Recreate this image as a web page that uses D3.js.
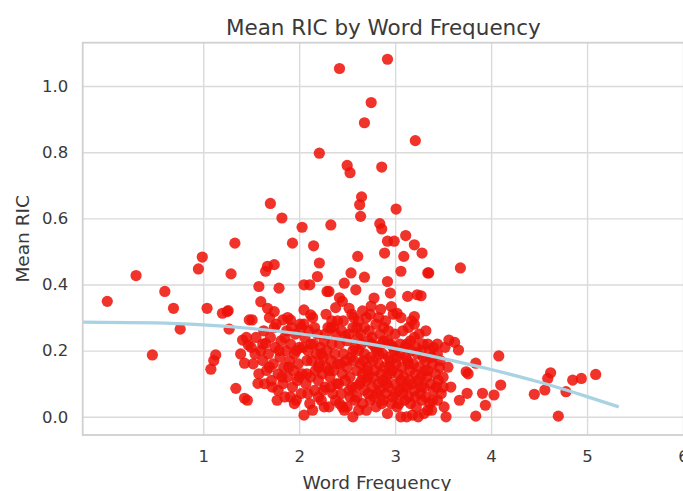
<!DOCTYPE html>
<html>
<head>
<meta charset="utf-8">
<script src="https://cdn.jsdelivr.net/npm/d3@7"></script>
<style>
  html, body { margin: 0; padding: 0; background: #ffffff; overflow: hidden; }
  svg { display: block; font-family: "DejaVu Sans", sans-serif; }
</style>
</head>
<body>
<svg id="chart" width="683" height="491"></svg>
<script>
// ---- Data ----
const title = "Mean RIC by Word Frequency";
const xLabel = "Word Frequency";
const yLabel = "Mean RIC";
const xTicks = [1, 2, 3, 4, 5, 6];
const yTicks = [0.0, 0.2, 0.4, 0.6, 0.8, 1.0];

const wordFrequency = [
  2.42,2.92,2.75,2.68,3.21,2.21,2.50,2.53,2.86,2.65,
  2.63,2.64,3.01,1.70,1.82,2.03,2.33,2.84,2.86,1.33,
  1.93,2.15,3.11,2.92,2.99,3.20,0.99,0.95,1.29,0.30,
  0.60,0.00,0.69,1.04,1.20,1.26,0.76,1.27,0.47,1.13,
  1.11,1.08,1.48,1.34,1.43,3.28,3.35,3.68,3.27,3.56,
  3.62,3.66,4.08,3.84,3.74,4.62,4.59,4.85,4.94,5.09,
  4.78,4.45,4.56,4.10,3.91,4.03,3.75,3.67,3.94,3.84,
  4.70,3.53,3.51,2.21,1.67,1.74,1.65,2.19,2.05,2.11,
  1.58,1.79,2.29,1.60,1.25,1.67,1.74,1.51,1.83,2.05,
  2.12,1.91,2.02,2.33,1.41,1.47,1.54,1.39,1.43,1.65,
  1.57,1.46,1.77,1.91,2.61,2.89,3.09,3.06,3.34,2.54,
  2.68,2.47,2.92,2.31,2.59,2.95,3.13,3.23,2.45,2.78,
  2.75,2.85,2.52,2.96,3.02,3.20,2.57,2.70,2.36,2.60,
  2.80,3.20,2.76,2.95,3.12,3.29,2.48,2.42,2.38,3.76,
  1.45,1.50,1.52,1.55,1.58,1.60,1.62,1.63,1.66,1.68,
  1.70,1.71,1.73,1.75,1.76,1.78,1.80,1.81,1.83,1.84,
  1.86,1.87,1.88,1.90,1.91,1.93,1.94,1.95,1.96,1.98,
  1.99,2.00,2.01,2.02,2.03,2.04,2.06,2.07,2.08,2.09,
  2.10,2.11,2.12,2.13,2.15,2.16,2.17,2.18,2.19,2.20,
  2.21,2.22,2.23,2.24,2.25,2.26,2.27,2.28,2.29,2.30,
  2.31,2.32,2.33,2.34,2.35,2.36,2.37,2.38,2.39,2.40,
  1.97,2.05,2.14,2.20,2.26,1.85,1.72,1.64,3.55,3.58,
  3.52,2.56,3.06,3.12,3.18,3.24,3.30,2.47,2.62,3.38,
  2.42,2.50,2.58,2.66,2.74,2.80,2.88,2.96,3.02,3.10,
  3.16,3.22,3.28,3.36,3.44,2.44,2.52,2.60,2.68,2.72,
  2.78,2.84,2.90,2.98,3.04,3.08,3.14,3.20,3.26,3.32,
  3.40,3.48,2.41,2.48,2.55,2.63,2.70,2.76,2.82,2.87,
  2.93,3.00,3.06,3.12,3.18,3.24,3.30,3.37,3.45,2.45,
  2.53,2.60,2.66,2.72,2.79,2.85,2.91,2.97,3.03,3.09,
  3.15,3.21,3.27,3.34,3.42,3.50,2.43,2.50,2.57,2.64,
  2.71,2.77,2.83,2.89,2.95,3.01,3.07,3.13,3.19,3.25,
  3.32,3.39,3.46,2.46,2.54,2.62,2.68,2.74,2.81,2.87,
  2.93,2.99,3.05,3.11,3.17,3.23,3.29,3.36,3.44,2.42,
  2.50,2.58,2.65,2.72,2.79,2.86,2.92,2.98,3.05,3.16,
  3.22,3.34,3.40,2.44,2.52,2.56,2.64,2.68,2.73,2.84,
  2.88,2.93,3.00,3.08,3.14,3.25,3.32,2.46,2.55,2.62,
  2.66,2.74,2.83,2.90,2.98,3.06,3.17,
  1.62,1.69,1.74,1.79,1.82,1.85,1.89,1.92,1.97,2.00,
  2.05,2.08,2.12,2.16,2.20,2.23,2.27,2.31,2.34,2.38,
  1.78,1.95,2.09,2.25,2.33,1.88,2.14,2.28,1.69,2.40,
  2.45,2.53,2.59,2.65,2.71,2.77,2.81,2.86,2.91,2.95,
  3.00,3.04,3.09,3.15,3.21,3.27,3.33,3.39,3.43,3.47,
  2.49,2.56,2.61,2.67,2.76,2.83,2.88,2.94,3.02,3.10,
  3.14,3.20,3.27,3.31,3.38,3.44,3.50,2.70,2.92,3.34
];

const meanRIC = [
  1.053,1.081,0.95,0.889,0.835,0.797,0.76,0.738,0.755,0.665,
  0.641,0.606,0.628,0.645,0.601,0.573,0.58,0.584,0.568,0.525,
  0.525,0.517,0.548,0.531,0.531,0.52,0.483,0.447,0.432,0.427,
  0.379,0.349,0.328,0.328,0.313,0.321,0.265,0.265,0.187,0.187,
  0.17,0.144,0.293,0.086,0.056,0.495,0.435,0.45,0.366,0.232,
  0.225,0.202,0.184,0.162,0.136,0.133,0.116,0.111,0.116,0.128,
  0.076,0.068,0.081,0.096,0.071,0.066,0.071,0.05,0.035,0.002,
  0.002,0.0,0.03,0.465,0.455,0.46,0.44,0.424,0.399,0.399,
  0.394,0.389,0.379,0.348,0.318,0.328,0.318,0.293,0.293,0.323,
  0.308,0.293,0.27,0.268,0.232,0.217,0.19,0.19,0.162,0.222,
  0.101,0.05,0.05,0.06,0.485,0.495,0.485,0.44,0.435,0.435,
  0.422,0.404,0.409,0.379,0.384,0.374,0.364,0.369,0.349,0.359,
  0.335,0.325,0.328,0.333,0.313,0.303,0.30,0.30,0.273,0.27,
  0.28,0.28,0.24,0.22,0.22,0.22,0.245,0.36,0.33,0.13,
  0.24,0.21,0.16,0.24,0.13,0.20,0.17,0.26,0.14,0.19,
  0.24,0.11,0.16,0.21,0.28,0.13,0.18,0.23,0.10,0.15,
  0.20,0.26,0.12,0.17,0.22,0.09,0.14,0.19,0.25,0.11,
  0.16,0.21,0.28,0.07,0.13,0.21,0.24,0.10,0.13,0.20,
  0.26,0.04,0.12,0.17,0.22,0.08,0.14,0.19,0.25,0.11,
  0.16,0.21,0.05,0.13,0.18,0.23,0.09,0.15,0.20,0.27,
  0.03,0.12,0.17,0.22,0.07,0.14,0.19,0.25,0.10,0.16,
  0.05,0.005,0.02,0.06,0.03,0.06,0.09,0.10,0.15,0.09,
  0.21,0.00,0.00,0.00,0.005,0.00,0.01,0.02,0.02,0.02,
  0.04,0.03,0.05,0.04,0.05,0.03,0.05,0.04,0.03,0.05,
  0.04,0.03,0.05,0.04,0.05,0.07,0.08,0.06,0.08,0.07,
  0.06,0.08,0.07,0.06,0.08,0.07,0.06,0.08,0.07,0.06,
  0.08,0.07,0.10,0.11,0.09,0.10,0.11,0.09,0.10,0.11,
  0.09,0.10,0.11,0.09,0.10,0.11,0.09,0.10,0.11,0.13,
  0.12,0.14,0.13,0.12,0.14,0.13,0.12,0.14,0.13,0.12,
  0.14,0.13,0.12,0.14,0.13,0.12,0.16,0.15,0.17,0.16,
  0.15,0.17,0.16,0.15,0.17,0.16,0.15,0.17,0.16,0.15,
  0.17,0.16,0.15,0.19,0.18,0.20,0.19,0.18,0.20,0.19,
  0.18,0.20,0.19,0.18,0.20,0.19,0.18,0.20,0.19,0.22,
  0.23,0.21,0.22,0.23,0.21,0.22,0.23,0.21,0.22,0.23,
  0.21,0.22,0.21,0.26,0.25,0.27,0.25,0.27,0.26,0.25,
  0.27,0.26,0.25,0.26,0.27,0.25,0.26,0.29,0.31,0.29,
  0.32,0.31,0.30,0.29,0.31,0.30,0.29,
  0.22,0.15,0.27,0.20,0.12,0.24,0.15,0.27,0.20,0.12,
  0.28,0.17,0.22,0.27,0.15,0.19,0.25,0.14,0.29,0.05,
  0.08,0.04,0.07,0.08,0.09,0.30,0.30,0.31,0.30,0.29,
  0.03,0.06,0.09,0.11,0.14,0.12,0.07,0.04,0.10,0.13,
  0.07,0.04,0.09,0.11,0.06,0.09,0.12,0.05,0.09,0.17,
  0.17,0.20,0.24,0.17,0.22,0.19,0.23,0.15,0.18,0.21,
  0.16,0.24,0.20,0.14,0.18,0.22,0.09,0.02,0.01,0.02
];

// regression curve
const fitX = [-0.256, 0.5, 1.0, 1.5, 2.0, 2.5, 3.0, 3.5, 4.0, 4.5, 5.0, 5.33];
const fitY = [0.286, 0.284, 0.278, 0.267, 0.251, 0.231, 0.206, 0.176, 0.143, 0.105, 0.061, 0.030];

// ---- Layout ----
const plot = { left: 82.7, top: 42.7, right: 684, bottom: 435 };
const svg = d3.select("#chart");

const x = d3.scaleLinear().domain([-0.256, 6.01]).range([plot.left, plot.right]);
const y = d3.scaleLinear().domain([-0.055, 1.131]).range([plot.bottom, plot.top]);

const gridColor = "#dadada";
const textColor = "#3a3a3a";

svg.append("rect").attr("x", 0).attr("y", 0).attr("width", 683).attr("height", 491).attr("fill", "#ffffff");

// grid lines via axes
const gx = svg.append("g")
  .attr("transform", `translate(0,${plot.bottom})`)
  .call(d3.axisBottom(x).tickValues(xTicks).tickSize(-(plot.bottom - plot.top)).tickFormat(""));
gx.select(".domain").remove();
gx.selectAll("line").attr("stroke", gridColor).attr("stroke-width", 1.4);

const gy = svg.append("g")
  .attr("transform", `translate(${plot.left},0)`)
  .call(d3.axisLeft(y).tickValues(yTicks).tickSize(-(plot.right - plot.left)).tickFormat(""));
gy.select(".domain").remove();
gy.selectAll("line").attr("stroke", gridColor).attr("stroke-width", 1.4);

// points
const pts = wordFrequency.map((f, i) => ({ f, r: meanRIC[i] }));
svg.append("g")
  .selectAll("circle")
  .data(pts)
  .join("circle")
  .attr("cx", d => x(d.f))
  .attr("cy", d => y(d.r))
  .attr("r", 5.6)
  .attr("fill", "#ee1208")
  .attr("fill-opacity", 0.86);

// regression line
const fit = fitX.map((v, i) => [v, fitY[i]]);
svg.append("path")
  .datum(fit)
  .attr("fill", "none")
  .attr("stroke", "#a9d2e3")
  .attr("stroke-width", 3.2)
  .attr("d", d3.line().x(d => x(d[0])).y(d => y(d[1])).curve(d3.curveMonotoneX));

// spines
svg.append("rect")
  .attr("x", plot.left).attr("y", plot.top)
  .attr("width", plot.right - plot.left).attr("height", plot.bottom - plot.top)
  .attr("fill", "none").attr("stroke", "#d0d0d0").attr("stroke-width", 1.8);

// tick labels
const lx = svg.append("g")
  .attr("transform", `translate(0,${plot.bottom})`)
  .call(d3.axisBottom(x).tickValues(xTicks).tickSize(0).tickPadding(15).tickFormat(d3.format("d")));
lx.select(".domain").remove();
lx.selectAll("text").attr("fill", textColor).style("font-size", "16.5px").style("font-family", "DejaVu Sans");

const ly = svg.append("g")
  .attr("transform", `translate(${plot.left},0)`)
  .call(d3.axisLeft(y).tickValues(yTicks).tickSize(0).tickPadding(14.5).tickFormat(d3.format(".1f")));
ly.select(".domain").remove();
ly.selectAll("text").attr("fill", textColor).style("font-size", "16.5px").style("font-family", "DejaVu Sans");

// title
svg.append("text")
  .attr("x", (plot.left + plot.right) / 2)
  .attr("y", 35)
  .attr("text-anchor", "middle")
  .attr("fill", textColor)
  .style("font-size", "21.5px")
  .text(title);

// axis labels
svg.append("text")
  .attr("x", 377)
  .attr("y", 489)
  .attr("text-anchor", "middle")
  .attr("fill", textColor)
  .style("font-size", "18.5px")
  .text(xLabel);

svg.append("text")
  .attr("transform", `translate(28.5,${(plot.top + plot.bottom) / 2}) rotate(-90)`)
  .attr("text-anchor", "middle")
  .attr("fill", textColor)
  .style("font-size", "18.5px")
  .text(yLabel);
</script>
</body>
</html>
